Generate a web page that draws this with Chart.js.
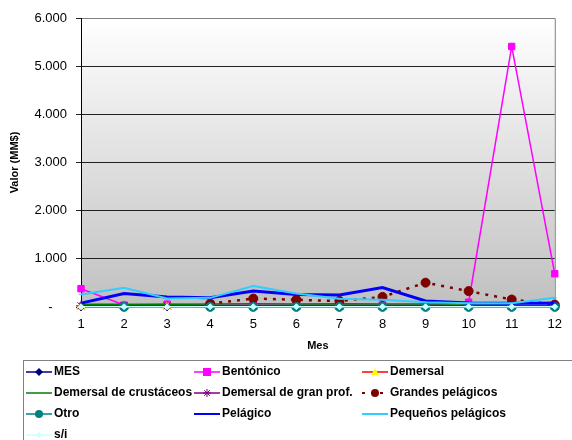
<!DOCTYPE html>
<html>
<head>
<meta charset="utf-8">
<script src="https://cdn.jsdelivr.net/npm/chart.js@4/dist/chart.umd.min.js"></script>
<style>
  html, body { margin: 0; padding: 0; background: #fff; }
  #wrap { position: relative; width: 572px; height: 440px; }
</style>
</head>
<body>
<div id="wrap"><canvas id="c" width="572" height="440"></canvas></div>
<script>
// ── DATA ────────────────────────────────────────────────────────────
var meses = ["1", "2", "3", "4", "5", "6", "7", "8", "9", "10", "11", "12"];
var yTicks = [0, 1000, 2000, 3000, 4000, 5000, 6000];

var mes        = [1, 2, 3, 4, 5, 6, 7, 8, 9, 10, 11, 12];
var bentonico  = [380, 40, 60, 40, 40, 40, 40, 40, 40, 100, 5410, 690];
var demersal   = [10, 10, 10, 10, 10, 10, 10, 10, 10, 10, 10, 10];
var crustaceos = [55, 55, 50, 60, 65, 60, 70, 60, 60, 60, 70, 100];
var granProf   = [25, 25, 25, 25, 25, 25, 25, 25, 25, 25, 25, 25];
var grandesPel = [null, null, null, 70, 175, 150, 125, 210, 505, 330, 155, 50];
var otro       = [null, 2, null, 2, 2, 2, 2, 2, 2, 2, 2, 2];
var pelagico   = [80, 280, 210, 190, 330, 260, 250, 405, 125, 85, 80, 80];
var pequenos   = [260, 400, 175, 190, 435, 280, 170, 150, 100, 80, 80, 190];
var sinInfo    = [5, 5, 5, 5, 5, 5, 5, 5, 5, 5, 5, 5];

// ── SERIES ──────────────────────────────────────────────────────────
var series = [
    { label: "MES", data: mes, color: "#000080", width: 1.5, point: "rectRot", fill: "#000080", r: 4 },
    { label: "Bentónico", data: bentonico, color: "#ff00ff", width: 1.5, point: "rect", fill: "#ff00ff", r: 4.5 },
    { label: "Demersal", data: demersal, color: "#ff0000", width: 1.5, point: "triangle", fill: "#ffff00", r: 5 },
    { label: "Demersal de crustáceos", data: crustaceos, color: "#008000", width: 1.5, point: false, fill: "#008000", r: 0 },
    { label: "Demersal de gran prof.", data: granProf, color: "#800080", width: 1.5, point: "star", fill: "#800080", r: 5 },
    { label: "Grandes pelágicos", data: grandesPel, color: "#800000", width: 2.5, point: "circle", fill: "#800000", r: 4.5, dash: [3, 6] },
    { label: "Otro", data: otro, color: "#008080", width: 1.5, point: "circle", fill: "#008080", r: 4.5 },
    { label: "Pelágico", data: pelagico, color: "#0000ff", width: 3, point: "line", fill: "#0000ff", r: 2 },
    { label: "Pequeños pelágicos", data: pequenos, color: "#33ccff", width: 2, point: "line", fill: "#33ccff", r: 2 },
    { label: "s/i", data: sinInfo, color: "#ccffff", width: 1.5, point: "rectRot", fill: "#ccffff", r: 3 }
];

var datasets = [];
for (var i = 0; i < series.length; i++) {
    var s = series[i];
    datasets.push({
        label: s.label,
        data: s.data,
        borderColor: s.color,
        backgroundColor: s.fill,
        borderWidth: s.width,
        borderDash: s.dash || [],
        pointStyle: s.point,
        pointRadius: s.r,
        pointBackgroundColor: s.fill,
        pointBorderColor: s.point === "triangle" ? "#ffff00" : s.fill,
        pointBorderWidth: 1,
        tension: 0,
        spanGaps: true,
        clip: false,
        order: series.length - i
    });
}

// ── PLUGINS ─────────────────────────────────────────────────────────
var plotBg = {
    id: "plotBg",
    beforeDraw: function (chart) {
        var a = chart.chartArea, ctx = chart.ctx;
        var g = ctx.createLinearGradient(0, a.top, 0, a.bottom);
        g.addColorStop(0, "#ffffff");
        g.addColorStop(1, "#c0c0c0");
        ctx.save();
        ctx.fillStyle = g;
        ctx.fillRect(a.left, a.top, a.right - a.left, a.bottom - a.top);
        ctx.restore();
    },
    beforeDatasetsDraw: function (chart) {
        var a = chart.chartArea, ctx = chart.ctx;
        ctx.save();
        ctx.strokeStyle = "#808080";
        ctx.lineWidth = 1;
        ctx.beginPath();
        ctx.moveTo(a.left, a.top + 0.5);
        ctx.lineTo(a.right + 0.5, a.top + 0.5);
        ctx.lineTo(a.right + 0.5, a.bottom);
        ctx.stroke();
        ctx.strokeStyle = "#000";
        ctx.beginPath();
        ctx.moveTo(a.left + 0.5, a.top);
        ctx.lineTo(a.left + 0.5, a.bottom);
        ctx.stroke();
        ctx.restore();
    }
};

function drawMarker(ctx, s, x, y) {
    var r = s.r;
    ctx.fillStyle = s.fill;
    ctx.strokeStyle = s.point === "triangle" ? "#ffff00" : s.fill;
    ctx.lineWidth = 1;
    ctx.beginPath();
    if (s.point === "rect") {
        ctx.rect(x - r, y - r, 2 * r, 2 * r);
        ctx.fill();
    } else if (s.point === "rectRot") {
        ctx.moveTo(x, y - r); ctx.lineTo(x + r, y); ctx.lineTo(x, y + r); ctx.lineTo(x - r, y);
        ctx.closePath(); ctx.fill();
    } else if (s.point === "triangle") {
        ctx.moveTo(x, y - r); ctx.lineTo(x + r, y + r * 0.8); ctx.lineTo(x - r, y + r * 0.8);
        ctx.closePath(); ctx.fill();
    } else if (s.point === "circle") {
        ctx.arc(x, y, r, 0, Math.PI * 2);
        ctx.fill();
    } else if (s.point === "star") {
        ctx.moveTo(x - r, y); ctx.lineTo(x + r, y);
        ctx.moveTo(x, y - r); ctx.lineTo(x, y + r);
        ctx.moveTo(x - r * 0.7, y - r * 0.7); ctx.lineTo(x + r * 0.7, y + r * 0.7);
        ctx.moveTo(x - r * 0.7, y + r * 0.7); ctx.lineTo(x + r * 0.7, y - r * 0.7);
        ctx.stroke();
    } else if (s.point === "line") {
        ctx.lineWidth = 2;
        ctx.moveTo(x - 3, y); ctx.lineTo(x + 3, y);
        ctx.stroke();
    }
}

// legend box under the chart, 3 columns like the original
var legendBox = {
    id: "legendBox",
    afterDraw: function (chart) {
        var ctx = chart.ctx;
        var colX = [26, 194, 362];
        var rowY = [372, 393, 414, 435];
        ctx.save();
        ctx.strokeStyle = "#808080";
        ctx.lineWidth = 1;
        ctx.strokeRect(23.5, 360.5, 560, 100);
        ctx.font = "bold 12px 'Liberation Sans', Arial, sans-serif";
        ctx.textBaseline = "middle";
        for (var i = 0; i < series.length; i++) {
            var s = series[i];
            var x = colX[i % 3], y = rowY[Math.floor(i / 3)];
            ctx.strokeStyle = s.color;
            ctx.lineWidth = Math.min(s.width, 2);
            ctx.setLineDash(s.dash || []);
            ctx.beginPath();
            ctx.moveTo(x, y); ctx.lineTo(x + 26, y);
            ctx.stroke();
            ctx.setLineDash([]);
            drawMarker(ctx, { point: s.point, fill: s.fill, r: Math.min(s.r, 4) }, x + 13, y);
            ctx.fillStyle = "#000";
            ctx.fillText(s.label, x + 28, y);
        }
        ctx.restore();
    }
};

// ── CHART ───────────────────────────────────────────────────────────
Chart.defaults.font.family = "'Liberation Sans', Arial, sans-serif";
Chart.defaults.color = "#000";

new Chart(document.getElementById("c"), {
    type: "line",
    data: { labels: meses, datasets: datasets },
    options: {
        responsive: false,
        animation: false,
        events: [],
        layout: { padding: { top: 18, right: 15, bottom: 83, left: 0 } },
        plugins: { legend: { display: false }, tooltip: { enabled: false } },
        scales: {
            x: {
                offset: false,
                grid: { display: false, drawTicks: false },
                border: { display: true, color: "#000" },
                ticks: { padding: 10, font: { size: 13 }, maxRotation: 0 },
                title: { display: true, text: "Mes", font: { size: 11, weight: "bold" }, padding: { top: 0, bottom: 4 } },
                afterFit: function (sc) { sc.height = 50; }
            },
            y: {
                min: 0,
                max: 6000,
                afterBuildTicks: function (sc) {
                    sc.ticks = yTicks.map(function (v) { return { value: v }; });
                },
                grid: { color: "#222", lineWidth: 1, tickLength: 5, drawTicks: true },
                border: { display: true, color: "#000" },
                ticks: {
                    padding: 9,
                    font: { size: 13 },
                    callback: function (v) {
                        if (v === 0) return "-    ";
                        return (v / 1000).toFixed(3);
                    }
                },
                title: { display: true, text: "Valor (MM$)", font: { size: 11, weight: "bold" }, padding: { top: 8, bottom: 4 } },
                afterFit: function (sc) { sc.width = 81; }
            }
        }
    },
    plugins: [plotBg, legendBox]
});
</script>
</body>
</html>
